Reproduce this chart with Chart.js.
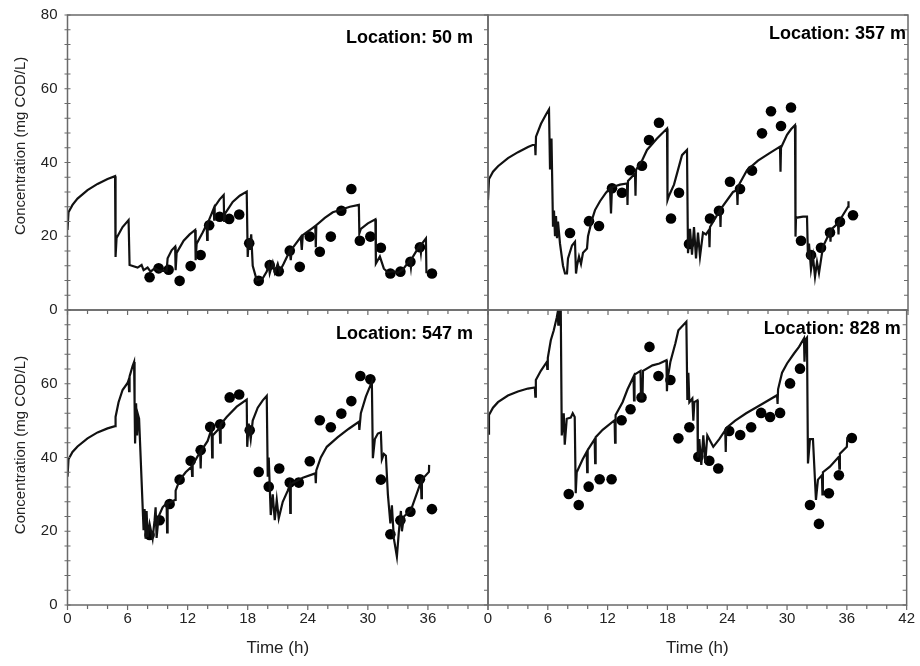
<!DOCTYPE html>
<html>
<head>
<meta charset="utf-8">
<script src="https://cdn.jsdelivr.net/npm/chart.js@4.4.1/dist/chart.umd.min.js"></script>
<style>
  html, body { margin: 0; padding: 0; background: #fff; }
  #wrap { position: relative; width: 920px; height: 666px; }
  #wrap canvas { position: absolute; left: 0; top: 0; }
</style>
</head>
<body>
<div id="wrap">
  <canvas id="p50" width="920" height="666"></canvas>
  <canvas id="p357" width="920" height="666"></canvas>
  <canvas id="p547" width="920" height="666"></canvas>
  <canvas id="p828" width="920" height="666"></canvas>
</div>
<script>
// ticks
const timeTicks = [0, 6, 12, 18, 24, 30, 36, 42];
const concTicks = [0, 20, 40, 60, 80];

// simulated concentration [time h, mg COD/L]
const sim50 = [[0,21.7],[0.1,26.5],[0.5,28.5],[1,30.2],[2,32.5],[3,34.2],[4,35.5],[4.75,36.3],
  [4.8,14.4],[4.9,19.5],[5.5,22.5],[6.1,24.4],
  [6.2,12.2],[7,11.5],[7.4,12.2],[7.6,10.8],[8,11.5],[8.3,10.4],[8.7,11.3],[9.2,10.6],[9.9,10.6],
  [10,14],[10.4,16.2],[10.75,17.2],[10.8,10.8],[10.9,15.5],[11.6,18.8],[12.2,20.5],[12.75,21.7],
  [12.8,13.5],[12.9,18],[13.5,21],[13.9,23.2],[13.95,19],[14,23.5],[14.6,27.5],[14.65,24.5],[14.7,28],[15.2,30],[15.6,31.2],
  [15.65,23.9],[15.75,26.2],[16.5,29.3],[17.2,31],[17.9,32.1],
  [18,14.4],[18.1,19.4],[18.2,16.3],[18.35,20.5],[18.5,12],[18.9,8.1],[19.5,8.6],[19.9,10.4],[20.1,12.3],[20.2,10],[20.5,12.8],[20.7,10.2],[21,12.5],[21.2,10.5],[21.6,12.6],
  [22.2,16],[22.3,13.5],[22.4,16.5],[23.3,19.8],[23.4,16.3],[23.5,20.3],[24.5,22.3],[24.75,22.8],[24.8,17],[24.85,23],[25.7,25],[26.5,26.5],[27.3,27.2],[28.2,28],[29.1,28.5],
  [29.15,20.8],[29.3,22],[30,23.5],[30.75,24.6],
  [30.8,12.6],[31.2,14.5],[31.6,11.2],[32,10.2],[32.5,10.5],[33,10.1],[33.5,11],[34.2,13.5],[34.3,11.5],[34.4,14],[35.2,17.6],[35.3,15.5],[35.4,18],[35.8,19.4],[35.85,10]];

const sim357 = [[0,29.8],[0.1,35.5],[0.5,37.5],[1,39],[2,41.2],[3,42.8],[4,44.2],[4.7,45],
  [4.75,42],[4.8,47],[5.3,50.5],[5.8,53],[6.1,54.4],
  [6.2,38.4],[6.25,44],[6.35,46.5],[6.5,22.6],[6.6,27],[6.7,20],[6.8,25.5],[6.9,19.5],[7,24],[7.2,18],[7.5,12],[7.7,9.9],[7.9,9.9],[8,14],[8.4,17.5],[8.7,18.5],[8.8,9.9],[8.9,12],[9.1,14.5],[9.3,12.5],[9.5,15.5],[9.9,16.7],
  [10,20],[10.4,24.5],[10.7,27.1],[11.2,29.5],[11.8,31.8],[12.2,33],[12.3,26.2],[12.4,33.3],[13.2,34],[13.9,34.3],[13.95,28.5],[14,35],[14.7,37],[14.75,31],[14.8,38],[15.4,40.5],[15.9,43.4],[16.9,46.5],[17.9,49.2],
  [17.95,29.8],[18.1,31],[18.6,34],[19,38],[19.4,42],[19.9,43.4],
  [20,15.4],[20.2,22],[20.4,15],[20.6,22.5],[20.8,14],[21,21],[21.2,14.5],[21.5,21],[21.8,20.5],[22.1,21.7],[22.15,17],[22.2,22.5],[23.2,27.1],[23.25,22.5],[23.3,27.5],[24.5,32],[24.9,32.5],[24.95,28.5],[25,33.5],[25.9,37.9],[27,40.5],[28.2,42.6],[29.2,44.3],
  [29.25,37.5],[29.3,44],[29.9,47.5],[30.3,49],[30.7,50.1],
  [30.75,19.9],[30.8,25],[31.5,25.3],[31.9,25.3],[32,14],[32.1,18],[32.3,11],[32.5,14.5],[32.7,9],[32.9,13],[33.1,10],[33.5,17.2],[34.2,21.2],[34.25,18.5],[34.3,21.8],[35,23.5],[35.05,20.5],[35.1,24],[36,28],[36.05,29.5]];

const sim547 = [[0,34.8],[0.1,39.5],[0.5,41.5],[1,43],[2,45.2],[3,46.8],[4,47.9],[4.75,48.5],
  [4.8,51],[5.1,55],[5.5,58.3],[6,60.2],[6.1,61],[6.15,58],[6.2,62],[6.5,64.8],[6.65,65.9],
  [6.7,55],[6.75,43.8],[6.85,54.7],[6.95,46],[7.05,51.5],[7.15,50.5],[7.6,20.3],[7.7,26],[7.8,18],[7.9,25.5],[8,18.5],[8.2,22],[8.5,18],[8.7,23],[8.8,26.5],[8.9,18.2],[9.1,24],[9.5,26.5],[9.9,27.6],
  [9.95,19.7],[10,27.5],[10.75,28.5],[10.8,31],[11.2,33.9],[11.8,36],[12.4,37.5],[12.45,35],[12.5,38],[13.25,41.5],[13.3,37],[13.35,41.8],[14,44.5],[14.4,47.9],[14.45,40],[14.5,46],[15.2,48],[15.25,44],[15.3,49],[15.9,51],[16.9,53.8],[17.9,55.7],
  [17.95,42.9],[18.1,49.2],[18.3,45],[18.5,50],[19,53.5],[19.5,55.5],[19.9,56.7],
  [20,34.8],[20.1,40],[20.3,24.4],[20.5,30],[20.7,23],[20.9,28.5],[21.1,23.5],[21.5,28],[22,31],[22.2,32.5],[22.25,25],[22.3,32.8],[23.5,34.5],[24.75,35.7],[24.8,33],[24.85,36.5],[25.3,40],[25.9,42.9],[27,45.5],[28.1,47.8],[29.1,49.7],
  [29.15,47.5],[29.3,52],[29.8,56.5],[30.4,60.5],
  [30.5,39.8],[30.7,45],[31,46.5],[31.3,46.8],[31.4,39.5],[31.6,41],[31.8,40.5],[32,30],[32.25,22.1],[32.4,27],[32.6,18],[32.9,13.1],[33.1,20],[33.3,25.5],[33.4,20],[33.6,24],[34.3,25.7],[35.3,33.4],[35.35,29],[35.4,34],[36.1,36.1],[36.12,38]];

const sim828 = [[0,46.5],[0.1,51.5],[0.5,53.5],[1,55],[2,56.8],[3,57.9],[4,58.7],[4.7,59],
  [4.75,56.5],[4.8,61],[5.3,63.5],[5.9,65.9],[5.95,64],[6,67],[6.3,71.8],[6.6,74.5],[6.9,78],[7,79.5],[7.05,76],[7.1,80],[7.3,80],[7.4,46],[7.6,52],[7.7,43.5],[7.9,50.5],[8.3,50.8],[8.5,52],[8.7,51],[8.8,30.3],
  [8.9,36],[9.5,39.5],[9.9,41.5],[9.95,36],[10,42],[10.7,45],[10.75,38.5],[10.8,45.5],[11.5,47.5],[12.7,50.1],[12.75,44],[12.8,51.5],[13.5,55],[14,58.5],[14.6,61.9],[14.65,55.5],[14.7,62.5],[15.3,63.5],[15.35,56],[15.5,56],[15.55,63.5],[16.5,65],[17.2,65.5],[17.9,66.4],
  [17.95,58],[18,61],[18.3,66],[18.8,71],[19.1,74.5],[19.9,76.8],
  [20,55.6],[20.1,63],[20.2,55],[20.5,56],[20.6,50],[20.7,55],[21,55.5],[21.05,40],[21.2,45],[21.4,38],[21.6,46],[21.8,38.5],[22,46],[22.6,42.9],[23.2,45],[23.8,47.4],[23.85,41.5],[23.9,48],[24.8,50],[25.9,52],[27.5,54.5],[29,56.9],
  [29.05,54.5],[29.1,58.5],[29.5,63],[30,65.5],[30.7,68.2],[31.2,70],[31.7,72.3],[31.75,66],[31.85,72],[32,72.5],[32.1,38.4],[32.3,45],[32.6,45],[32.9,28.5],[33.1,34],[33.5,35.2],[33.55,30],[33.6,36],[34.3,37.5],[35.2,40.2],[35.25,37],[35.3,41],[36,42.9],[36.05,45.5]];

// measured concentration [time h, mg COD/L]
const obs50 = [[8.2,8.9],[9.1,11.3],[10.1,10.9],[11.2,7.9],[12.3,11.9],[13.3,14.9],[14.15,23],[15.2,25.3],[16.15,24.7],[17.15,25.9],[18.15,18.1],[19.1,7.9],[20.2,12.2],[21.1,10.5],[22.2,16.1],[23.2,11.7],[24.2,19.9],[25.2,15.8],[26.3,19.9],[27.35,26.9],[28.35,32.8],[29.2,18.8],[30.25,19.9],[31.3,16.9],[32.25,9.9],[33.25,10.4],[34.25,13.1],[35.2,17],[36.4,9.9]];
const obs357 = [[8.2,20.9],[10.1,24.1],[11.1,22.8],[12.4,33],[13.4,31.8],[14.2,37.9],[15.4,39.1],[16.1,46.1],[17.1,50.8],[18.3,24.8],[19.1,31.8],[20.1,17.9],[22.2,24.8],[23.1,26.9],[24.2,34.8],[25.2,32.8],[26.4,37.8],[27.4,47.9],[28.3,53.9],[29.3,49.9],[30.3,54.9],[31.3,18.8],[32.3,14.9],[33.3,16.9],[34.2,21],[35.2,23.9],[36.5,25.7]];
const obs547 = [[8.2,19],[9.2,23],[10.2,27.4],[11.2,34],[12.3,39.1],[13.3,42],[14.25,48.3],[15.25,49],[16.2,56.3],[17.15,57.1],[18.2,47.4],[19.1,36.1],[20.1,32.1],[21.15,37],[22.2,33.2],[23.1,33.2],[24.2,39],[25.2,50.1],[26.3,48.2],[27.35,51.9],[28.35,55.3],[29.25,62.1],[30.25,61.2],[31.3,34],[32.25,19.2],[33.25,23],[34.25,25.3],[35.2,34.1],[36.4,26]];
const obs828 = [[8.1,30.1],[9.1,27.1],[10.1,32.1],[11.2,34.1],[12.4,34.1],[13.4,50.1],[14.3,53.1],[15.4,56.3],[16.2,70],[17.1,62.1],[18.3,61],[19.1,45.2],[20.2,48.2],[21.1,40.2],[22.2,39.1],[23.1,37],[24.2,47.2],[25.3,46.1],[26.4,48.2],[27.4,52.1],[28.3,51],[29.3,52.1],[30.3,60.1],[31.3,64.1],[32.3,27.1],[33.2,22],[34.2,30.3],[35.2,35.2],[36.5,45.3]];

const fontFam = "'Liberation Sans', Arial, sans-serif";
const textCol = '#222';

// frame, tick marks and location label
const panelFrame = {
    id: 'panelFrame',
    afterDraw(chart, args, o) {
        const { ctx, chartArea: a } = chart;
        const xs = chart.scales.x, ys = chart.scales.y;
        ctx.save();
        ctx.strokeStyle = '#6a6a6a';
        ctx.lineWidth = 1.5;
        ctx.strokeRect(a.left, a.top, a.right - a.left, a.bottom - a.top);
        ctx.lineWidth = 1.2;
        ctx.beginPath();
        for (let t = 0; t <= 42; t += 2) {
            const px = xs.getPixelForValue(t);
            ctx.moveTo(px, a.bottom);
            ctx.lineTo(px, a.bottom + (t % 6 === 0 ? 5 : 4));
        }
        for (let v = 0; v <= 80; v += 4) {
            const py = ys.getPixelForValue(v);
            if (o.leftTicks) {
                ctx.moveTo(a.left - 3, py);
                ctx.lineTo(a.left + 3, py);
            }
            ctx.moveTo(a.right, py);
            ctx.lineTo(a.right - 4, py);
        }
        ctx.stroke();
        ctx.fillStyle = '#000';
        ctx.font = "bold 18px " + fontFam;
        ctx.textAlign = 'right';
        ctx.textBaseline = 'middle';
        ctx.fillText(o.label, a.right - o.dx, a.top + o.dy);
        ctx.restore();
    }
};

function makePanel(id, sim, obs, cfg) {
    return new Chart(document.getElementById(id), {
        type: 'scatter',
        data: {
            datasets: [{
                data: sim.map(p => ({ x: p[0], y: p[1] })),
                showLine: true,
                borderColor: '#111',
                borderWidth: 2.2,
                pointRadius: 0,
                tension: 0
            }, {
                data: obs.map(p => ({ x: p[0], y: p[1] })),
                pointRadius: 5.3,
                backgroundColor: '#000',
                borderWidth: 0
            }]
        },
        options: {
            responsive: false,
            animation: false,
            events: [],
            layout: { padding: cfg.pad },
            plugins: {
                legend: { display: false },
                tooltip: { enabled: false },
                panelFrame: { label: cfg.label, dx: cfg.dx, dy: cfg.dy, leftTicks: cfg.showY }
            },
            scales: {
                x: {
                    type: 'linear',
                    min: 0,
                    max: 42,
                    display: cfg.showX,
                    afterBuildTicks: s => { s.ticks = timeTicks.map(v => ({ value: v })); },
                    afterFit: s => { if (cfg.showX) s.height = 61; },
                    grid: { display: false, drawTicks: false },
                    border: { display: false },
                    ticks: {
                        padding: 5,
                        maxRotation: 0,
                        autoSkip: false,
                        color: textCol,
                        font: { family: fontFam, size: 15 },
                        callback: v => cfg.xLabels.includes(v) ? String(v) : ''
                    },
                    title: {
                        display: true,
                        text: 'Time (h)',
                        color: textCol,
                        font: { family: fontFam, size: 17 },
                        padding: { top: 0, bottom: 7 }
                    }
                },
                y: {
                    type: 'linear',
                    min: 0,
                    max: 80,
                    display: cfg.showY,
                    afterBuildTicks: s => { s.ticks = concTicks.map(v => ({ value: v })); },
                    afterFit: s => {
                        if (cfg.showY) s.width = 67.5;
                        s.paddingTop = 8;
                        s.paddingBottom = 8;
                    },
                    grid: { display: false, drawTicks: false },
                    border: { display: false },
                    ticks: {
                        padding: 10,
                        color: textCol,
                        font: { family: fontFam, size: 15 },
                        callback: v => cfg.yLabels.includes(v) ? String(v) : ''
                    },
                    title: {
                        display: true,
                        text: cfg.yTitle,
                        color: textCol,
                        font: { family: fontFam, size: 15 },
                        padding: { top: 12, bottom: 0 }
                    }
                }
            }
        },
        plugins: [panelFrame]
    });
}

makePanel('p50', sim50, obs50, {
    pad: { left: 0, top: 15, right: 432, bottom: 356 },
    showX: false, showY: true, xLabels: [], yLabels: [0, 20, 40, 60, 80],
    yTitle: '        Concentration (mg COD/L)',
    label: 'Location: 50 m', dx: 15, dy: 23
});
makePanel('p357', sim357, obs357, {
    pad: { left: 488, top: 15, right: 12, bottom: 356 },
    showX: false, showY: false, xLabels: [], yLabels: [],
    yTitle: '',
    label: 'Location: 357 m', dx: 2, dy: 19
});
makePanel('p547', sim547, obs547, {
    pad: { left: 0, top: 310, right: 432, bottom: 0 },
    showX: true, showY: true, xLabels: [0, 6, 12, 18, 24, 30, 36], yLabels: [0, 20, 40, 60],
    yTitle: '      Concentration (mg COD/L)',
    label: 'Location: 547 m', dx: 15, dy: 24
});
makePanel('p828', sim828, obs828, {
    pad: { left: 488, top: 310, right: 12, bottom: 0 },
    showX: true, showY: false, xLabels: timeTicks, yLabels: [],
    yTitle: '',
    label: 'Location: 828 m', dx: 6, dy: 19
});
</script>
</body>
</html>
